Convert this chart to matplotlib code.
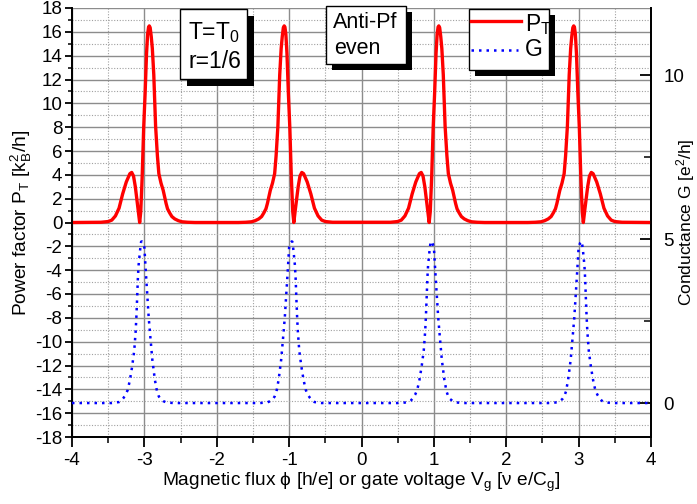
import numpy as np
import matplotlib
matplotlib.use('Agg')
import matplotlib.pyplot as plt
from matplotlib.patches import Rectangle
from matplotlib.lines import Line2D
from matplotlib.transforms import Affine2D

plt.rcParams['font.family'] = ['Liberation Sans', 'DejaVu Sans']
plt.rcParams['mathtext.default'] = 'regular'
plt.rcParams['axes.unicode_minus'] = False

# peak positions (G maxima near odd integers) and which side the big P_T lobe sits on
peak_centers = [-3, -1, 1, 3]
peak_sides = [1, -1, 1, -1]

# P_T profile around the peak at -3, offsets dx = x + 3
pt_dx = [-0.60, -0.50, -0.45, -0.40, -0.35, -0.30, -0.25, -0.20, -0.175, -0.15,
         -0.125, -0.105, -0.085, -0.065, -0.05, -0.03, -0.01, 0.01, 0.03, 0.045,
         0.058, 0.068, 0.08, 0.095, 0.11, 0.13, 0.155, 0.18, 0.20, 0.23,
         0.26, 0.30, 0.32, 0.35, 0.38, 0.42, 0.47, 0.52, 0.60, 0.70]
pt_val = [0.02, 0.08, 0.2, 0.55, 1.2, 2.4, 3.4, 4.1, 4.2, 3.9,
          3.0, 2.0, 1.05, 0.0, 0.9, 3.9, 7.9, 10.8, 14.2, 15.8,
          16.4, 16.5, 16.35, 15.6, 14.6, 12.4, 8.1, 5.6, 4.1, 3.3,
          2.7, 1.6, 1.15, 0.8, 0.5, 0.3, 0.15, 0.06, 0.02, 0.0]

# G profile around the peak at -3, same offsets convention
g_dx = [-0.45, -0.35, -0.32, -0.29, -0.26, -0.23, -0.20, -0.17, -0.14, -0.12,
        -0.11, -0.10, -0.09, -0.08, -0.06, -0.045, -0.035, -0.02, 0.0, 0.02,
        0.04, 0.06, 0.085, 0.11, 0.145, 0.175, 0.20, 0.225, 0.26, 0.30, 0.40]
g_val = [0.0, 0.03, 0.07, 0.15, 0.25, 0.40, 0.70, 1.1, 1.6, 2.2,
         2.65, 3.2, 3.8, 4.2, 4.65, 4.92, 4.93, 4.88, 4.75, 4.0,
         3.3, 2.6, 1.95, 1.32, 0.71, 0.35, 0.2, 0.12, 0.06, 0.02, 0.0]

x_min, x_max = -4, 4


def build_curve(dx, val):
    xs = [x_min]
    ys = [0.0]
    for c, s in zip(peak_centers, peak_sides):
        pairs = [(c + s * d, v) for d, v in zip(dx, val)]
        pairs.sort()
        for a, b in pairs:
            xs.append(a)
            ys.append(b)
    xs.append(x_max)
    ys.append(0.0)
    return np.array(xs), np.array(ys)


W, H = 697, 504
fig = plt.figure(figsize=(W / 100, H / 100), dpi=100)
# pixel coords, origin top-left
px = Affine2D().scale(1.0 / W, -1.0 / H).translate(0, 1) + fig.transFigure

ax = fig.add_axes([72 / W, (H - 437) / H, (651 - 72) / W, (437 - 8) / H])
ax2 = ax.twinx()

x_pt, y_pt = build_curve(pt_dx, pt_val)
x_g, y_g = build_curve(g_dx, g_val)

ax.plot(x_pt, y_pt, color='red', lw=2.4, solid_joinstyle='round', zorder=5)
ax2.plot(x_g, y_g, color='blue', lw=1.8, ls=(0, (1, 2.0)), zorder=5)

ax.set_xlim(x_min, x_max)
ax.set_ylim(-18, 18)
ax2.set_ylim(-1.036, 12.05)

ax.set_xticks(np.arange(-4, 5, 1))
ax.set_xticks(np.arange(-4, 4.01, 0.5), minor=True)
ax.set_yticks(np.arange(-18, 19, 2))
ax.set_yticks(np.arange(-18, 18.01, 1), minor=True)
ax2.set_yticks([0, 5, 10])
ax2.set_yticks([2.5, 7.5], minor=True)

ax.grid(which='major', color='#8c8c8c', lw=1.0, ls='-')
ax.grid(which='minor', color='#a0a0a0', lw=0.8, ls=(0, (1, 1.5)))
ax.set_axisbelow(True)

for a in (ax, ax2):
    a.spines['top'].set_visible(False)
    for sp in ('left', 'right', 'bottom'):
        a.spines[sp].set_linewidth(1.3)
ax.tick_params(axis='x', which='major', direction='out', length=7, width=1.3, pad=4, labelsize=13.5)
ax.tick_params(axis='x', which='minor', direction='out', length=4, width=1.1)
ax.tick_params(axis='y', which='major', direction='out', length=5, width=1.3, pad=2, labelsize=13.5)
ax.tick_params(axis='y', which='minor', direction='out', length=3, width=1.1)
ax2.tick_params(axis='y', which='major', direction='in', length=8, width=1.3, pad=9, labelsize=13.5)
ax2.tick_params(axis='y', which='minor', direction='in', length=5, width=1.1)

ax.set_xlabel(r'Magnetic flux $\phi$ [h/e] or gate voltage V$_g$ [$\nu$ e/C$_g$]', fontsize=13.8)
ax.set_ylabel(r'Power factor P$_T$ [k$_B^2$/h]', fontsize=13.8)
ax2.set_ylabel(r'Conductance G [e$^2$/h]', fontsize=12.5)
ax.xaxis.label.set_va('center')
ax.xaxis.set_label_coords(0.5, -0.105)
ax.yaxis.label.set_va('center')
ax.yaxis.set_label_coords(-0.088, 0.5)
ax2.yaxis.label.set_va('center')
ax2.yaxis.set_label_coords(1.059, 0.5)


def shadow_box(x0, y0, x1, y1, off=6):
    fig.patches.append(Rectangle((x0 + off, y1 + off), x1 - x0, -(y1 - y0), transform=px,
                                 facecolor='black', edgecolor='black', lw=0, zorder=20))
    fig.patches.append(Rectangle((x0, y1), x1 - x0, -(y1 - y0), transform=px,
                                 facecolor='white', edgecolor='black', lw=1.0, zorder=21))


shadow_box(180, 9, 247, 79, off=7)
fig.text(188, 33, r'T=T$_0$', transform=px, fontsize=16.5, va='center', ha='left', zorder=22)
fig.text(188, 61, 'r=1/6', transform=px, fontsize=16.5, va='center', ha='left', zorder=22)

shadow_box(326, 6, 406, 64)
fig.text(333, 22, 'Anti-Pf', transform=px, fontsize=15.5, va='center', ha='left', zorder=22)
fig.text(334, 49, 'even', transform=px, fontsize=15.5, va='center', ha='left', zorder=22)

shadow_box(469, 9, 549, 70)
fig.add_artist(Line2D([471, 521], [21, 21], transform=px, color='red', lw=2.4, zorder=22))
fig.add_artist(Line2D([471, 518], [50, 50], transform=px, color='blue', lw=1.8,
                      ls=(0, (1, 2.0)), zorder=22))
fig.text(525, 25, r'P$_T$', transform=px, fontsize=16.5, va='center', ha='left', zorder=22)
fig.text(525, 50, 'G', transform=px, fontsize=16.5, va='center', ha='left', zorder=22)

fig.savefig('out.png', dpi=100)
